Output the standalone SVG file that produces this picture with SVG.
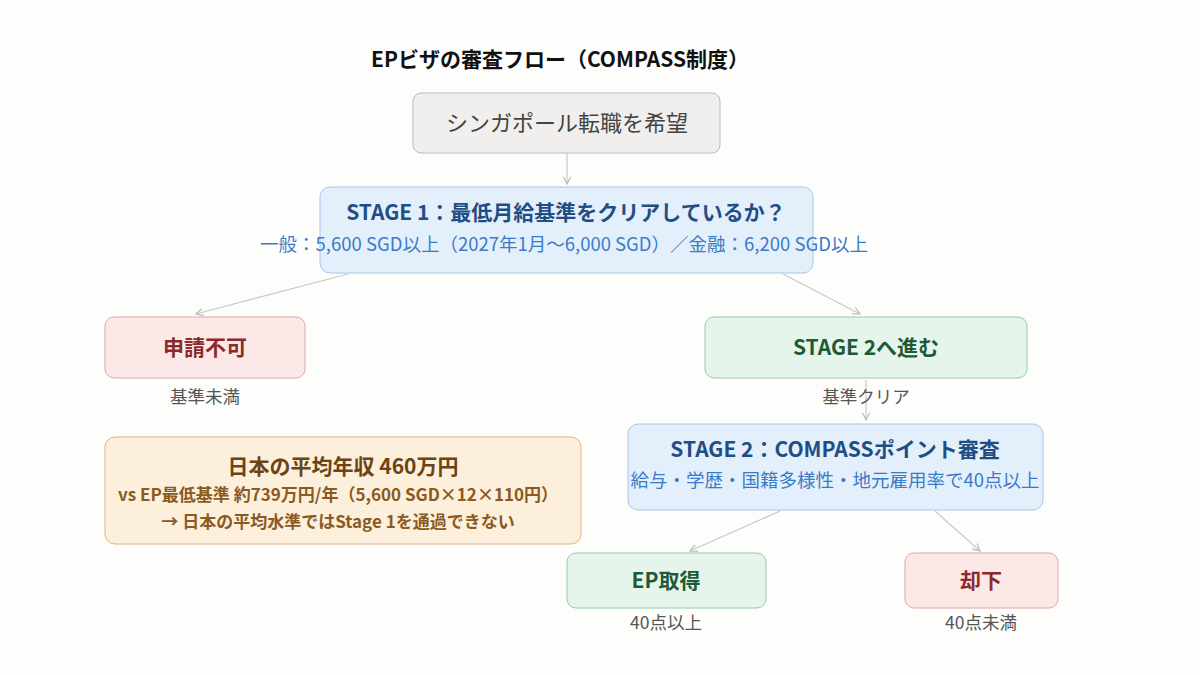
<svg xmlns="http://www.w3.org/2000/svg" width="1200" height="675" viewBox="0 0 1200 675">
<style>
text{font-family:"Noto Sans CJK JP","Noto Sans",sans-serif;text-anchor:middle}
.t{font-size:21px;font-weight:bold}
.s{font-size:18.5px}
.c{font-size:17.5px;fill:#555}
.e{fill:none;stroke:#c8c8c8;stroke-width:1.2;marker-end:url(#a)}
</style>
<defs><marker id="a" markerWidth="8" markerHeight="8" refX="7" refY="4" orient="auto"><path d="M1,1 L7,4 L1,7" fill="none" stroke="#bbb" stroke-width="1"/></marker></defs>
<rect width="1200" height="675" fill="#fdfdfc"/>
<text x="560" y="67" style="font-size:21px;font-weight:bold" fill="#111">EPビザの審査フロー（COMPASS制度）</text>
<g id="edges">
<path class="e" d="M567,153 L567,184"/>
<path class="e" d="M348,274 L196,314"/>
<path class="e" d="M783,274 L860,314"/>
<path class="e" d="M866,380 L866,420"/>
<path class="e" d="M780,511 L690,551"/>
<path class="e" d="M935,511 L980,551"/>
</g>
<g id="start"><rect x="413" y="93" width="307" height="60" rx="8" fill="#f0efed" stroke="#bbb"/><text x="567" y="131" style="font-size:22px" fill="#444">シンガポール転職を希望</text></g>
<g id="stage1"><rect x="320" y="187" width="493" height="86" rx="10" fill="#e4effc" stroke="#a9c6ea"/><text x="566" y="220" class="t" fill="#1f4e85">STAGE 1：最低月給基準をクリアしているか？</text><text x="564" y="251" class="s" fill="#3a7bc8">一般：5,600 SGD以上（2027年1月〜6,000 SGD）／金融：6,200 SGD以上</text></g>
<g id="ng"><rect x="105" y="317" width="200" height="61" rx="9" fill="#fde8e8" stroke="#e3a5a5"/><text x="205" y="355" class="t" fill="#8b2a2a">申請不可</text><text x="205" y="403" class="c">基準未満</text></g>
<g id="s2go"><rect x="705" y="317" width="322" height="61" rx="9" fill="#e5f5ec" stroke="#96caa8"/><text x="866" y="355" class="t" fill="#1f5a37">STAGE 2へ進む</text><text x="866" y="403" class="c">基準クリア</text></g>
<g id="note"><rect x="105" y="437" width="476" height="107" rx="10" fill="#fcefdc" stroke="#dcb582"/><text x="343" y="474" class="t" fill="#6b4415">日本の平均年収 460万円</text><text x="338" y="501" style="font-size:17px;font-weight:bold" fill="#8a5a20">vs EP最低基準 約739万円/年（5,600 SGD×12×110円）</text><text x="338" y="528" style="font-size:17px;font-weight:bold" fill="#8a5a20">→ 日本の平均水準ではStage 1を通過できない</text></g>
<g id="stage2"><rect x="628" y="424" width="415" height="86" rx="10" fill="#e4effc" stroke="#a9c6ea"/><text x="835" y="457" class="t" fill="#1f4e85">STAGE 2：COMPASSポイント審査</text><text x="835" y="487" class="s" fill="#3a7bc8">給与・学歴・国籍多様性・地元雇用率で40点以上</text></g>
<g id="ep"><rect x="567" y="553" width="199" height="55" rx="9" fill="#e5f5ec" stroke="#96caa8"/><text x="666" y="588" class="t" fill="#1f5a37">EP取得</text><text x="666" y="629" class="c">40点以上</text></g>
<g id="rej"><rect x="905" y="553" width="153" height="55" rx="9" fill="#fde8e8" stroke="#e3a5a5"/><text x="981" y="588" class="t" fill="#8b2a2a">却下</text><text x="981" y="629" class="c">40点未満</text></g>
</svg>
